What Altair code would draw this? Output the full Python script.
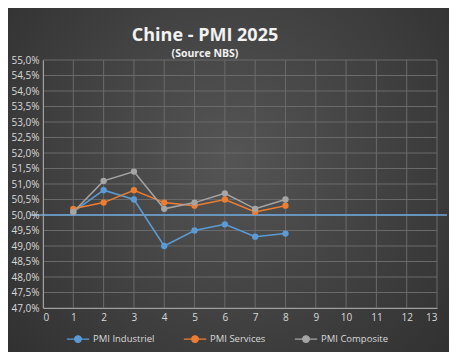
import altair as alt
import pandas as pd

mois = [1, 2, 3, 4, 5, 6, 7, 8]
pmi_industriel = [50.1, 50.8, 50.5, 49.0, 49.5, 49.7, 49.3, 49.4]
pmi_services = [50.2, 50.4, 50.8, 50.4, 50.3, 50.5, 50.1, 50.3]
pmi_composite = [50.1, 51.1, 51.4, 50.2, 50.4, 50.7, 50.2, 50.5]
series = ["PMI Industriel", "PMI Services", "PMI Composite"]
couleurs = ["#5b9bd5", "#ed7d31", "#a5a5a5"]
seuil = [50.0]
titre = ["Chine - PMI 2025"]
sous_titre = ["(Source NBS)"]
y_ticks = [47 + 0.5 * i for i in range(17)]
x_ticks = list(range(0, 14))

rows = []
for name, vals in zip(series, [pmi_industriel, pmi_services, pmi_composite]):
    for m, v in zip(mois, vals):
        rows.append({"Mois": m, "Valeur": v, "Série": name})
df = pd.DataFrame(rows)

W, H = 394, 248
PL, PT, PR, PB = 35, 52, 12, 44
font = "Open Sans"

legend = alt.Legend(
    title=None,
    orient="none",
    direction="horizontal",
    legendX=23,
    legendY=267,
    columns=3,
    columnPadding=26,
    symbolType="M-1,0H1M0.3,0A0.3,0.3,0,1,1,-0.3,0A0.3,0.3,0,1,1,0.3,0Z",
    symbolSize=500,
    symbolStrokeWidth=1.2,
    symbolOpacity=1,
    labelColor="#d9d9d9",
    labelFont=font,
    labelFontSize=9.5,
    labelOffset=3,
)
scale = alt.Scale(domain=series, range=couleurs)
xs = alt.Scale(domain=[0, 13], nice=False)
ys = alt.Scale(domain=[47, 55], nice=False, zero=False)

x_axis = alt.Axis(values=x_ticks, title=None, format="d", grid=False,
                  zindex=1, labelOverlap=False)
y_axis = alt.Axis(
    values=y_ticks,
    title=None,
    grid=False,
    zindex=1,
    labelOverlap=False,
    labelExpr="replace(format(datum.value, '.1f'), '.', ',') + '%'",
)

x = alt.X("Mois:Q", scale=xs, axis=x_axis)
y = alt.Y("Valeur:Q", scale=ys, axis=y_axis)

bg = alt.Chart(pd.DataFrame({"s": seuil})).mark_rect(
    clip=False,
    color=alt.Gradient(
        gradient="radial",
        stops=[
            alt.GradientStop(offset=0, color="#555555"),
            alt.GradientStop(offset=1, color="#2c2c2c"),
        ],
        x1=0.5, y1=0.45, r1=0, x2=0.5, y2=0.45, r2=0.75,
    ),
).encode(
    x=alt.value(-PL), x2=alt.value(W + PR), y=alt.value(-PT), y2=alt.value(H + PB)
)

hgrid = alt.Chart(pd.DataFrame({"Valeur": y_ticks})).mark_rule(
    color="#6a6a6a", strokeWidth=1
).encode(y=y)
vgrid = alt.Chart(pd.DataFrame({"Mois": x_ticks})).mark_rule(
    color="#6a6a6a", strokeWidth=1
).encode(x=x)

lines = alt.Chart(df).mark_line(strokeWidth=1.5).encode(
    x=x, y=y, color=alt.Color("Série:N", scale=scale, sort=series, legend=legend)
)
points = alt.Chart(df).mark_point(size=40, opacity=1, filled=True).encode(
    x=x, y=y, color=alt.Color("Série:N", scale=scale, sort=series, legend=legend)
)

rule = alt.Chart(pd.DataFrame({"Valeur": seuil})).mark_rule(
    color="#6fa8dc", strokeWidth=1.5, clip=False
).encode(y=y, x=alt.value(-13), x2=alt.value(404))

t1 = alt.Chart(pd.DataFrame({"t": titre})).mark_text(
    font=font, fontSize=18, fontWeight="bold", color="#f2f2f2",
    align="center", baseline="alphabetic", clip=False,
).encode(text="t:N", x=alt.value(162), y=alt.value(-19))
t2 = alt.Chart(pd.DataFrame({"t": sous_titre})).mark_text(
    font=font, fontSize=10.5, fontWeight="bold", color="#f2f2f2",
    align="center", baseline="alphabetic", clip=False,
).encode(text="t:N", x=alt.value(162), y=alt.value(-3))

chart = (
    alt.layer(bg, hgrid, vgrid, rule, lines, points, t1, t2)
    .properties(
        width=W,
        height=H,
        autosize=alt.AutoSizeParams(type="none"),
        padding={"left": PL, "top": PT, "right": PR, "bottom": PB},
        background="#2f2f2f",
    )
    .configure_view(stroke=None)
    .configure_axis(
        domainColor="#a0a0a0",
        tickSize=0,
        labelColor="#d9d9d9",
        labelFont=font,
        labelFontSize=10,
        labelPadding=4,
    )
)

chart.save("out.html", embed_options={"renderer": "svg", "actions": False})
